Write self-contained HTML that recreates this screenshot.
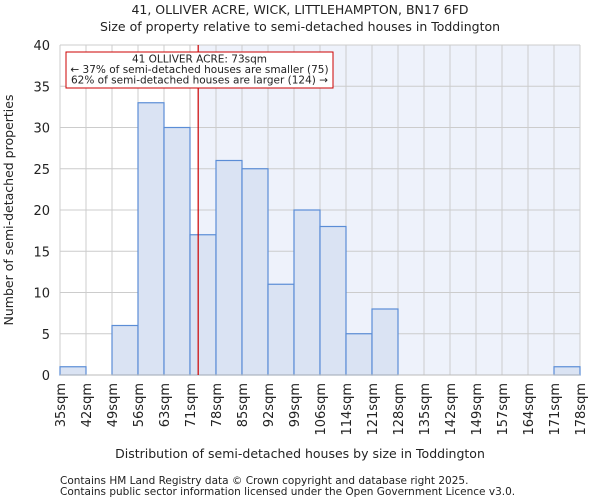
<!DOCTYPE html>
<html><head><meta charset="utf-8"><style>
body{margin:0;background:#fff;font-family:"DejaVu Sans","Liberation Sans",sans-serif;}
svg text{font-family:"DejaVu Sans","Liberation Sans",sans-serif;fill:#222;}
</style></head><body>
<svg id="c" width="600" height="500" viewBox="0 0 600 500" xmlns="http://www.w3.org/2000/svg">
<text x="300" y="14" text-anchor="middle" font-size="12.5">41, OLLIVER ACRE, WICK, LITTLEHAMPTON, BN17 6FD</text>
<text x="300" y="31" text-anchor="middle" font-size="12.5">Size of property relative to semi-detached houses in Toddington</text>
<g id="plot"></g>
<text x="300" y="458" text-anchor="middle" font-size="12.5">Distribution of semi-detached houses by size in Toddington</text>
<text transform="translate(13,210) rotate(-90)" text-anchor="middle" font-size="12.5">Number of semi-detached properties</text>
<text x="60" y="484" font-size="10.5">Contains HM Land Registry data © Crown copyright and database right 2025.</text>
<text x="60" y="495" font-size="10.5">Contains public sector information licensed under the Open Government Licence v3.0.</text>
</svg>
<script>
const tickLabels=["35sqm","42sqm","49sqm","56sqm","63sqm","71sqm","78sqm","85sqm","92sqm","99sqm","106sqm","114sqm","121sqm","128sqm","135sqm","142sqm","149sqm","157sqm","164sqm","171sqm","178sqm"];
const counts=[1,0,6,33,30,17,26,25,11,20,18,5,8,0,0,0,0,0,0,1];
const yTicks=[0,5,10,15,20,25,30,35,40];
const markerValue=73;
const xMin=35,xMax=178;
const ns="http://www.w3.org/2000/svg";
const L=60,R=580,T=45,B=375,yMax=40;
const bw=(R-L)/counts.length;
const xb=i=>L+i*bw;
const y=v=>B-(v/yMax)*(B-T);
const xv=v=>L+(v-xMin)/(xMax-xMin)*(R-L);
const g=document.getElementById('plot');
function mk(t,a){const e=document.createElementNS(ns,t);for(const k in a)e.setAttribute(k,a[k]);g.appendChild(e);return e;}
const mx=xv(markerValue);
let e=mk('rect',{x:mx,y:T,width:R-mx,height:B-T,fill:'#eef2fb'});


yTicks.forEach(t=>{
 let l=mk('line',{x1:L,x2:R,y1:y(t),y2:y(t),stroke:'#cccccc','stroke-width':1});
 
 
 let tx=mk('text',{x:L-10,y:y(t)+5,'text-anchor':'end','font-size':13});
 tx.textContent=t;
 
 
});
tickLabels.forEach((s,i)=>{
 let l=mk('line',{x1:xb(i),x2:xb(i),y1:T,y2:B,stroke:'#cccccc','stroke-width':1});
 
 
 let tx=mk('text',{transform:`translate(${xb(i)+5},383) rotate(-90)`,'text-anchor':'end','font-size':13});
 tx.textContent=s;
 
 
});
counts.forEach((c,i)=>{
 if(c<=0)return;
 let r=mk('rect',{x:xb(i),y:y(c),width:bw,height:B-y(c),fill:'#dae3f3',stroke:'#5b8dd6','stroke-width':1.2});
 
 
});
e=mk('line',{x1:L,x2:R,y1:B,y2:B,stroke:'#bbbbbb','stroke-width':1});


e=mk('line',{x1:mx,x2:mx,y1:T,y2:B,stroke:'#cc0000','stroke-width':1.2});


e=mk('rect',{x:66,y:52,width:267,height:36,fill:'#fff',stroke:'#cc0000','stroke-width':1});


const ann=["41 OLLIVER ACRE: 73sqm","← 37% of semi-detached houses are smaller (75)","62% of semi-detached houses are larger (124) →"];
ann.forEach((s,i)=>{
 let t=mk('text',{x:199.5,y:62.5+i*10.5,'text-anchor':'middle','font-size':10.5});
 t.textContent=s;
 
 
});
</script>
</body></html>
